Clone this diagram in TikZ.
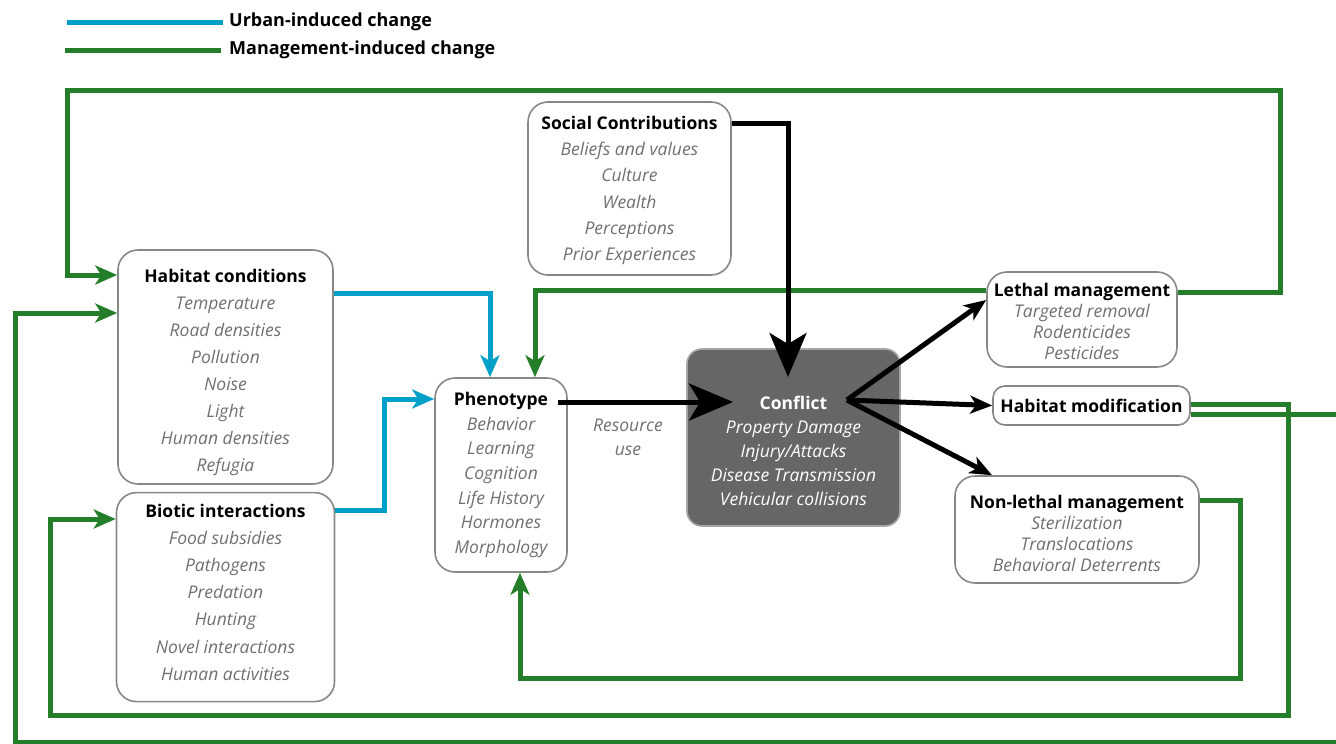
\documentclass[tikz,border=0pt]{standalone}
\usepackage{fontspec}
\setmainfont{Open Sans}
\usetikzlibrary{arrows.meta, positioning}

\definecolor{urbanblue}{RGB}{0,160,200}
\definecolor{mgmtgreen}{RGB}{36,126,41}
\definecolor{boxgray}{RGB}{135,135,135}
\definecolor{itemgray}{RGB}{112,112,112}
\definecolor{conflictgray}{RGB}{102,102,102}
\definecolor{conflictline}{RGB}{165,165,165}

\newcommand{\boxhead}[1]{{\normalfont\bfseries\color{black}#1}}
\newcommand{\toppad}[1]{\rule{0pt}{#1pt}}
\newcommand{\botpad}[1]{\rule[-#1pt]{0pt}{0pt}}

\tikzset{
  box/.style={draw=boxgray, line width=1.6pt, rounded corners=20pt, fill=white,
    align=center, text=itemgray, inner sep=0pt},
  items/.style={font=\itshape\fontsize{17.5}{#1}\selectfont},
  legend/.style={font=\bfseries\fontsize{18}{20}\selectfont, anchor=west, inner sep=0pt},
  urban/.style={draw=urbanblue, line width=5pt},
  mgmt/.style={draw=mgmtgreen, line width=5pt},
  cause/.style={draw=black, line width=5pt},
  tipsmall/.style={-{Stealth[length=22pt, width=19pt, inset=6pt]}},
  tipmid/.style={-{Stealth[length=22pt, width=18pt, inset=6pt]}},
  tipbig/.style={-{Stealth[length=44pt, width=37pt, inset=11pt]}}
}

\begin{document}
\begin{tikzpicture}[x=1pt, y=-1pt]
\useasboundingbox (0,0) rectangle (1336,744);
\clip (0,0) rectangle (1336,744);

% legend
\draw[urban] (67,22) -- (223,22);
\node[legend] (lgurban) at (229,22) {Urban-induced change};
\draw[mgmt] (65,50) -- (221,50);
\node[legend] (lgmgmt) at (229,50) {Management-induced change};

% boxes
\node[box, items=27, minimum width=215pt, minimum height=234pt] (habitat) at (225.5,367)
  {\toppad{24}\boxhead{Habitat conditions}\\Temperature\\Road densities\\Pollution\\Noise\\Light\\Human densities\\Refugia};
\node[box, items=27.2, minimum width=218pt, minimum height=209pt, below=7pt of habitat] (biotic)
  {\boxhead{Biotic interactions}\\Food subsidies\\Pathogens\\Predation\\Hunting\\Novel interactions\\Human activities\botpad{10}};
\node[box, items=24.7, minimum width=132pt, minimum height=194pt] (pheno) at (501,475)
  {\boxhead{Phenotype}\\Behavior\\Learning\\Cognition\\Life History\\Hormones\\Morphology};
\node[box, items=26.2, minimum width=203pt, minimum height=173pt] (social) at (629.5,188.5)
  {\toppad{17}\boxhead{Social Contributions}\\Beliefs and values\\Culture\\Wealth\\Perceptions\\Prior Experiences};
\node[box, items=24.2, draw=conflictline, fill=conflictgray, text=white, rounded corners=15pt,
  minimum width=213pt, minimum height=177pt] (conflict) at (793.5,437.5)
  {\toppad{40}{\normalfont\bfseries Conflict}\\Property Damage\\Injury/Attacks\\Disease Transmission\\Vehicular collisions};
\node[box, items=21, minimum width=190pt, minimum height=95pt] (lethal) at (1082,319.5)
  {\toppad{17}\boxhead{Lethal management}\\Targeted removal\\Rodenticides\\Pesticides};
\node[box, items=21, rounded corners=12pt, minimum width=197pt, minimum height=39pt] (hmod) at (1091.5,405.5)
  {\boxhead{Habitat modification}};
\node[box, items=21, minimum width=244pt, minimum height=107pt] (nonlethal) at (1077,529.5)
  {\toppad{21}\boxhead{Non-lethal management}\\Sterilization\\Translocations\\Behavioral Deterrents};
\node[items=24, text=itemgray, align=center] (resuse) at (628,437) {Resource\\use};

% urban-induced change
\draw[urban, tipsmall] (habitat.east |- 0,293) -| (pheno.north -| 490,0);
\draw[urban, tipsmall] (biotic.east |- 0,510) -| (384,399) -- (pheno.west |- 0,399);

% management-induced change
\draw[mgmt, tipsmall] (lethal.west |- 0,290) -| (pheno.north -| 535,0);
\draw[mgmt, tipsmall] (lethal.east |- 0,292) -- (1280,292) |- (67,90) |- (habitat.west |- 0,275);
\draw[mgmt, tipsmall] (hmod.east |- 0,404) -| (1288,715) -| (50,519) -- (biotic.west |- 0,519);
\draw[mgmt, tipsmall] (hmod.east |- 0,414) -| (1350,742) -| (15,313) -- (habitat.west |- 0,313);
\draw[mgmt, tipsmall] (nonlethal.east |- 0,500) -| (1240,678) -| (pheno.south -| 520,0);

% conflict arrows
\coordinate (cin) at (733,402);
\coordinate (ctop) at (788,377);
\coordinate (cout) at (847,400);
\draw[cause, tipbig] (social.east |- 0,123) -| (ctop);
\draw[cause, tipbig, shorten <=-10pt] (pheno.east |- cin) -- (cin);
\draw[cause, tipmid] (cout) -- (lethal.west |- 0,300);
\draw[cause, tipmid] (cout) -- (hmod.west);
\draw[cause, tipmid] (cout) -- (nonlethal.north -| 992,0);
\end{tikzpicture}
\end{document}
